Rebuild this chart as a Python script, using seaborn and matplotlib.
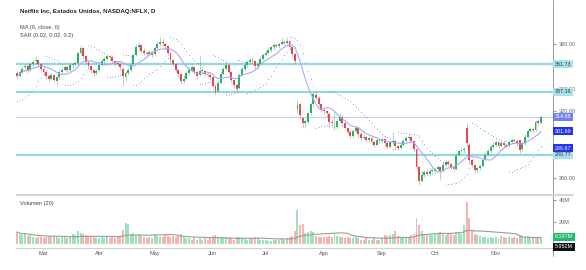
import numpy as np
import pandas as pd
import matplotlib
matplotlib.use("Agg")
import matplotlib.pyplot as plt
from matplotlib.lines import Line2D
import seaborn as sns

# ---------------- data (NFLX daily, Feb 14 - Nov 26) ----------------
opens = [
    354, 351, 355, 359, 360, 357, 362, 365, 366, 362,
    358, 355, 351, 349, 352, 347, 350, 355, 357, 359, 357, 361, 362, 363, 372, 376, 369, 364, 360, 357, 354,
    357, 361, 365, 367, 369, 368, 365, 363, 362, 358, 350, 354, 357, 362, 370, 377, 379, 374, 372, 371, 373,
    371, 376, 380, 382, 380, 378, 372, 366, 362, 357, 353, 347, 349, 354, 357, 359, 355, 352, 356, 356, 353, 352,
    350, 342, 338, 345, 353, 358, 361, 355, 348, 343, 341, 352, 358, 361, 364, 366, 365, 360, 362, 367,
    370, 372, 375, 377, 379, 378, 380, 382, 381, 383, 377, 371, 322, 326, 314, 309, 310, 318, 326, 334, 332, 326,
    321, 320, 317, 310, 305, 306, 311, 315, 309, 305, 301, 298, 302, 305, 299, 296, 297, 294, 296, 292, 290, 294,
    293, 295, 291, 288, 292, 293, 289, 287, 290, 293, 296, 297, 293, 286, 270, 257, 263, 265, 264, 266,
    266, 268, 270, 266, 272, 274, 273, 270, 268, 281, 284, 285, 305, 290, 276, 272, 267, 269, 271, 276, 281, 284, 288,
    290, 292, 289, 291, 290, 289, 292, 294, 293, 294, 286, 291, 297, 302, 304, 303, 311, 309,
]
highs = [
    356, 357, 360, 362, 361, 364, 366, 369, 367, 363,
    360, 357, 353, 354, 353, 351, 357, 359, 361, 360, 363, 364, 365, 374, 379, 377, 370, 365, 361, 358, 358,
    362, 367, 369, 371, 370, 369, 366, 365, 363, 359, 356, 359, 363, 372, 380, 382, 380, 376, 374, 375, 374,
    378, 383, 386, 385, 382, 379, 373, 367, 363, 358, 354, 352, 356, 359, 361, 360, 356, 370, 359, 357, 355, 354,
    351, 344, 347, 355, 360, 366, 362, 356, 349, 345, 354, 360, 363, 366, 368, 368, 366, 364, 369, 372,
    375, 377, 378, 381, 380, 382, 385, 384, 386, 384, 378, 372, 330, 327, 315, 313, 319, 328, 337, 338, 333, 327,
    323, 321, 318, 313, 320, 313, 318, 316, 311, 306, 303, 304, 307, 306, 301, 299, 298, 298, 297, 294, 296, 296,
    297, 296, 292, 294, 301, 294, 290, 292, 295, 298, 299, 298, 294, 287, 272, 266, 267, 268, 269, 269,
    270, 272, 271, 274, 276, 276, 274, 272, 282, 286, 287, 288, 309, 291, 278, 273, 271, 273, 278, 283, 286, 290, 292,
    294, 293, 293, 292, 291, 294, 296, 295, 294, 295, 293, 299, 304, 306, 306, 312, 313, 316,
]
lows = [
    349, 350, 354, 356, 354, 356, 360, 362, 360, 356,
    353, 349, 347, 348, 346, 343, 349, 353, 355, 355, 356, 358, 360, 362, 370, 367, 362, 358, 354, 350, 352,
    355, 360, 363, 365, 365, 363, 360, 360, 357, 343, 347, 352, 355, 361, 369, 375, 372, 370, 368, 369, 368,
    369, 374, 378, 378, 375, 370, 364, 360, 355, 350, 344, 345, 348, 352, 355, 353, 349, 351, 353, 351, 350, 348,
    340, 334, 337, 344, 352, 357, 353, 346, 341, 336, 340, 351, 356, 359, 362, 363, 358, 358, 361, 366,
    369, 371, 373, 375, 376, 376, 379, 379, 380, 375, 369, 362, 318, 314, 306, 305, 308, 316, 324, 330, 324, 319,
    317, 315, 306, 306, 303, 304, 309, 307, 303, 299, 296, 297, 300, 297, 294, 294, 292, 292, 290, 288, 289, 291,
    291, 289, 286, 287, 290, 287, 285, 286, 289, 292, 294, 291, 284, 268, 254, 256, 261, 262, 262, 264,
    264, 266, 259, 265, 270, 271, 268, 266, 267, 280, 282, 282, 289, 273, 270, 265, 265, 267, 270, 275, 280, 283, 286,
    288, 287, 288, 288, 287, 288, 291, 291, 289, 282, 284, 290, 296, 300, 301, 302, 307, 308,
]
closes = [
    351, 355, 358, 360, 357, 362, 364, 366, 362, 358,
    355, 351, 349, 352, 348, 350, 355, 357, 359, 357, 361, 362, 363, 372, 376, 369, 364, 360, 357, 354, 356,
    361, 365, 367, 369, 368, 365, 363, 362, 359, 351, 354, 357, 361, 370, 377, 379, 374, 372, 371, 373, 370,
    376, 380, 382, 381, 378, 372, 366, 362, 357, 353, 347, 349, 354, 357, 359, 355, 351, 356, 356, 353, 352, 350,
    342, 337, 345, 353, 358, 361, 355, 348, 343, 340, 352, 358, 361, 364, 366, 365, 360, 362, 367, 370,
    372, 375, 377, 379, 378, 380, 382, 381, 383, 377, 371, 365, 325, 316, 309, 311, 318, 326, 335, 332, 326, 321,
    320, 318, 310, 309, 306, 311, 315, 309, 305, 301, 298, 302, 305, 299, 296, 297, 294, 296, 292, 290, 294, 293,
    295, 291, 288, 292, 293, 289, 287, 290, 293, 296, 297, 293, 286, 270, 257, 263, 265, 264, 266, 267,
    268, 270, 266, 272, 274, 273, 270, 268, 280, 284, 285, 286, 291, 276, 272, 267, 269, 271, 276, 281, 284, 288, 290,
    292, 289, 291, 290, 289, 292, 294, 293, 291, 285, 291, 297, 302, 304, 303, 310, 309, 314.98,
]
volume_m = [
    11, 9, 8, 10, 7, 8, 6, 5, 6, 6,
    5, 6, 7, 6, 7, 6, 5, 7, 6, 5, 6, 9, 8, 12, 10, 9, 8, 7, 6, 6, 5,
    5, 6, 5, 6, 5, 6, 5, 6, 7, 13, 19, 18, 9, 10, 8, 9, 7, 6, 5, 6, 5,
    9, 7, 6, 6, 8, 7, 6, 7, 6, 8, 9, 6, 5, 5, 4, 5, 4, 5, 4, 5, 4, 5,
    7, 8, 6, 5, 5, 6, 5, 5, 4, 6, 6, 5, 5, 4, 5, 5, 6, 5, 4, 4,
    4, 3, 3, 4, 4, 4, 5, 4, 5, 6, 7, 12, 31, 17, 18, 10, 11, 12, 11, 7, 6, 6,
    6, 6, 7, 6, 9, 7, 6, 6, 5, 6, 5, 5, 6, 5, 4, 4, 5, 4, 4, 5, 4, 4,
    5, 8, 7, 8, 9, 12, 7, 6, 6, 5, 6, 8, 9, 24, 17, 12, 9, 8, 9, 8,
    9, 10, 11, 9, 8, 10, 9, 8, 11, 10, 9, 17, 38, 24, 12, 9, 8, 7, 6, 6, 5, 6, 5,
    6, 5, 7, 6, 5, 6, 5, 6, 5, 8, 7, 6, 7, 6, 5, 6, 5, 6.197,
]
month_pos = [10, 31, 52, 74, 94, 116, 138, 158, 181, 203]
month_labels = ["Mar", "Abr", "May", "Jun", "Jul", "Ago", "Sep", "Oct", "Nov", "Di"]
levels_cyan = [361.73, 337.16, 280.77]
last_price = 314.98
price_ticks = [260, 280, 300, 320, 340, 360, 380]
price_ticks_shown = [260, 320, 340, 380]   # the others sit under the value boxes
vol_ticks = [20, 40]
title = "Netflix Inc, Estados Unidos, NASDAQ:NFLX, D"
ma_label = "MA (9, close, 0)"
sar_label = "SAR (0.02, 0.02, 0.2)"
vol_label = "Volumen (20)"
ma_value_text = "301.69"
sar_value_text = "286.67"
vol_last_text = "6.197M"
vol_ma_text = "5.952M"

# ---------------- frame ----------------
df = pd.DataFrame({"o": opens, "h": highs, "l": lows, "c": closes, "v": volume_m})
df["i"] = np.arange(len(df))
df["up"] = df["c"] >= df["o"]
df["ma9"] = df["c"].rolling(9, min_periods=1).mean()
df["vma"] = df["v"].rolling(20, min_periods=1).mean()


def psar(high, low, step=0.02, maxaf=0.2):
    n = len(high)
    sar = np.zeros(n)
    bull = True
    af = step
    ep = high[0]
    sar[0] = low[0] - 20
    for k in range(1, n):
        s = sar[k - 1] + af * (ep - sar[k - 1])
        if bull:
            s = min(s, low[k - 1], low[max(k - 2, 0)])
            if low[k] < s:
                bull, s, ep, af = False, ep, low[k], step
            elif high[k] > ep:
                ep, af = high[k], min(af + step, maxaf)
        else:
            s = max(s, high[k - 1], high[max(k - 2, 0)])
            if high[k] > s:
                bull, s, ep, af = True, ep, high[k], step
            elif low[k] < ep:
                ep, af = low[k], min(af + step, maxaf)
        sar[k] = s
    return sar


df["sar"] = psar(df["h"].values.astype(float), df["l"].values.astype(float))

# ---------------- figure ----------------
sns.set_theme(style="white")
plt.rcParams["font.family"] = ["Liberation Sans", "DejaVu Sans"]

W, H = 586, 270
fig = plt.figure(figsize=(W / 100, H / 100), dpi=100)
fig.patch.set_facecolor("white")


def rect(l, t, r, b):
    return [l / W, 1 - b / H, (r - l) / W, (b - t) / H]


ax = fig.add_axes(rect(16, 26, 553, 194))
axv = fig.add_axes(rect(16, 196, 553, 248), sharex=ax)

GREEN = "#2fae6a"
RED = "#e24a4f"
VGREEN = "#9be2bf"
VRED = "#f8b2b2"
CYAN = "#93d7e0"

# levels
for lv in levels_cyan:
    ax.axhline(lv, color=CYAN, lw=1.6, zorder=1)
ax.axhline(last_price, color="#c8cbf6", lw=0.8, zorder=1)

# candles
cols = np.where(df["up"], GREEN, RED)
ax.vlines(df["i"], df["l"], df["h"], colors=cols, lw=0.5, alpha=0.6, zorder=2)
body_lo = np.minimum(df["o"], df["c"])
body_h = np.maximum(np.abs(df["c"] - df["o"]), 0.6)
ax.bar(df["i"], body_h, bottom=body_lo, width=0.72, color=cols, lw=0, zorder=3)

# indicators via seaborn
sns.lineplot(data=df, x="i", y="ma9", ax=ax, color="#a7abf6", lw=0.8, zorder=4)
sns.scatterplot(data=df, x="i", y="sar", ax=ax, color="#8a92f2", s=0.55, lw=0, zorder=4)

ax.set_xlim(-0.4, 202.6)
ax.set_ylim(245.7, 396.1)
ax.set_xlabel("")
ax.set_ylabel("")
ax.yaxis.tick_right()
ax.set_yticks(price_ticks)
ax.set_yticklabels([f"{t:.2f}" if t in price_ticks_shown else "" for t in price_ticks])
ax.tick_params(axis="y", labelsize=4, colors="#666", length=2, width=0.5, pad=2)
ax.tick_params(axis="x", labelbottom=False, length=0)
for s in ["top", "left", "bottom", "right"]:
    ax.spines[s].set_visible(False)

# volume
vcols = np.where(df["up"], VGREEN, VRED)
axv.bar(df["i"], df["v"], width=0.75, color=vcols, lw=0, zorder=2)
sns.lineplot(data=df, x="i", y="vma", ax=axv, color="#9b9b9b", lw=0.8, zorder=3)
axv.set_ylim(-3.64, 43.6)
axv.set_xlabel("")
axv.set_ylabel("")
axv.yaxis.tick_right()
axv.set_yticks(vol_ticks)
axv.set_yticklabels([f"{t}M" for t in vol_ticks])
axv.tick_params(axis="y", labelsize=4, colors="#666", length=2, width=0.5, pad=2)
axv.set_xticks(month_pos)
axv.set_xticklabels(month_labels)
axv.tick_params(axis="x", labelsize=4, colors="#555", length=0, pad=2.5)
for s in ["top", "left", "right"]:
    axv.spines[s].set_visible(False)
axv.spines["bottom"].set_color("#cfcfcf")
axv.spines["bottom"].set_linewidth(0.8)
ax.set_xlim(-0.4, 202.6)

# frame lines
fig.add_artist(Line2D([553 / W, 553 / W], [1 - 0 / H, 1 - 256 / H], color="#9a9a9a", lw=0.7))
fig.add_artist(Line2D([17 / W, 573 / W], [1 - 195 / H, 1 - 195 / H], color="#d3d3d3", lw=1.4))

# texts
fig.text(20 / W, 1 - 12 / H, title, fontsize=4.4, fontweight="bold", color="#222", va="center")
fig.text(20 / W, 1 - 27 / H, ma_label, fontsize=4.1, color="#444", va="center")
fig.text(20 / W, 1 - 35 / H, sar_label, fontsize=4.1, color="#444", va="center")
fig.text(20 / W, 1 - 203 / H, vol_label, fontsize=4.1, color="#444", va="center")


def ylab(yp, txt, fc, tc):
    fig.text(555 / W, 1 - yp / H, txt, fontsize=3.9, color=tc, va="center", ha="left",
             bbox=dict(boxstyle="square,pad=0.28", fc=fc, ec="none"), zorder=10)


def py(p):
    return 44 + (380 - p) * 1.117


for lv in levels_cyan:
    ylab(py(lv), f"{lv:.2f}", "#a9e2ea", "#333")
ylab(py(last_price), f"{last_price:.2f}", "#6f82f0", "white")
ylab(py(301.69), ma_value_text, "#2233f2", "white")
ylab(py(286.67), sar_value_text, "#2233f2", "white")
ylab(237, vol_last_text, "#22b970", "white")
ylab(247, vol_ma_text, "#111111", "white")

fig.savefig("out.png", dpi=100, facecolor="white")
